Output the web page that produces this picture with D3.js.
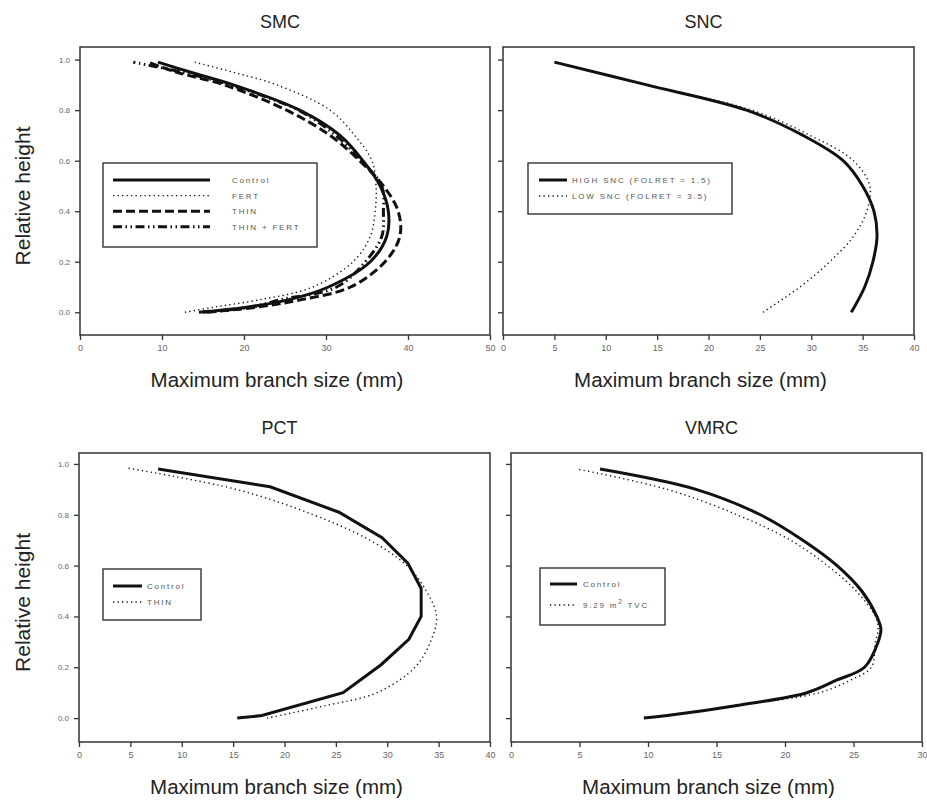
<!DOCTYPE html>
<html><head><meta charset="utf-8">
<script src="https://cdn.jsdelivr.net/npm/d3@7"></script>
<style>
body{margin:0;background:#fff;}
svg{display:block;font-family:"Liberation Sans",Arial,sans-serif;}
</style></head><body>
<svg id="chart" width="927" height="807"></svg>
<script>
'use strict';
// ---- data (relative height vs maximum branch size, mm) ----
const SMC_H      = [0, 0.02, 0.05, 0.1, 0.2, 0.3, 0.4, 0.5, 0.6, 0.7, 0.8, 0.9, 0.95, 0.99];
const SMC_CTRL   = [14.5, 20.3, 25.5, 30.3, 35.4, 37.4, 37.6, 36.6, 34.5, 31.7, 26.8, 18.7, 13.5, 9.5];
const SMC_FERT   = [12.8, 16.3, 22.0, 28.4, 33.3, 35.4, 36.0, 36.1, 35.6, 33.5, 30.5, 24.0, 18.7, 14.0];
const SMC_THIN   = [15.5, 21.5, 27.0, 33.0, 37.2, 39.0, 38.8, 37.0, 34.1, 30.5, 25.2, 17.6, 11.8, 8.3];
const SMC_TF     = [15.0, 20.8, 24.5, 31.3, 34.8, 36.8, 37.0, 36.8, 34.3, 31.2, 26.6, 18.3, 12.5, 6.5];

const SNC_H      = [0, 0.1, 0.2, 0.3, 0.4, 0.5, 0.6, 0.7, 0.8, 0.9, 0.99];
const SNC_HIGH   = [33.9, 35.2, 36.0, 36.4, 36.1, 35.0, 33.1, 29.2, 23.7, 14.0, 5.0];
const SNC_LOW    = [25.3, 28.9, 31.8, 34.1, 35.4, 35.7, 34.1, 29.9, 24.2, 14.0, 5.0];

const PCT_CTRL_H = [0, 0.01, 0.1, 0.21, 0.31, 0.4, 0.51, 0.61, 0.71, 0.81, 0.91, 0.98];
const PCT_CTRL   = [15.4, 17.8, 25.7, 29.4, 32.1, 33.3, 33.3, 32.0, 29.5, 25.3, 18.6, 7.7];
const PCT_THIN_H = [0, 0.05, 0.1, 0.2, 0.3, 0.4, 0.5, 0.6, 0.7, 0.8, 0.9, 0.985];
const PCT_THIN   = [18.3, 24.1, 29.0, 32.7, 34.2, 34.8, 33.8, 31.9, 28.3, 22.8, 15.3, 4.5];

const VMRC_H     = [0, 0.01, 0.05, 0.1, 0.15, 0.2, 0.3, 0.35, 0.4, 0.5, 0.6, 0.7, 0.8, 0.9, 0.98];
const VMRC_CTRL  = [9.7, 11.4, 16.5, 21.6, 23.8, 25.8, 26.8, 27.0, 26.7, 25.6, 23.8, 21.3, 18.2, 13.5, 6.5];
const VMRC_TVC   = [9.7, 11.4, 16.5, 22.5, 24.8, 26.3, 26.6, 26.8, 26.6, 25.2, 23.1, 20.4, 16.5, 11.4, 4.8];

const Y_TICKS = [0, 0.2, 0.4, 0.6, 0.8, 1.0];
const X_TICKS_50 = [0, 10, 20, 30, 40, 50];
const X_TICKS_40 = [0, 5, 10, 15, 20, 25, 30, 35, 40];
const X_TICKS_30 = [0, 5, 10, 15, 20, 25, 30];

// ---- styles ----
const STYLE = {
  solid:   {w: 3,   dash: null},
  dot:     {w: 1.4, dash: '1.3,3.2'},
  dash:    {w: 3,   dash: '9,4'},
  dashdot: {w: 3,   dash: '9,3.5,1.5,3.5,1.5,3.5'}
};
const zip = (h, v) => h.map((d, i) => [v[i], d]);

const panels = [
  {title: 'SMC', left: 80, right: 490, top: 47, bottom: 335, xDomain: [0, 50], yDomain: [-0.09, 1.05],
   xTicks: X_TICKS_50, yLabels: true, curve: d3.curveCatmullRom,
   series: [
     {name: 'Control', style: 'solid', pts: zip(SMC_H, SMC_CTRL)},
     {name: 'FERT', style: 'dot', pts: zip(SMC_H, SMC_FERT)},
     {name: 'THIN', style: 'dash', pts: zip(SMC_H, SMC_THIN)},
     {name: 'THIN + FERT', style: 'dashdot', pts: zip(SMC_H, SMC_TF)}
   ],
   legend: {x: 103, y: 163, w: 214, h: 84, lineX: 113, lineLen: 97, textX: 232, rowY: 180, rowStep: 15.6}},
  {title: 'SNC', left: 503, right: 914, top: 47, bottom: 335, xDomain: [0, 40], yDomain: [-0.09, 1.05],
   xTicks: X_TICKS_40, yLabels: false, curve: d3.curveCatmullRom,
   series: [
     {name: 'HIGH SNC (FOLRET = 1.5)', style: 'solid', pts: zip(SNC_H, SNC_HIGH)},
     {name: 'LOW SNC (FOLRET = 3.5)', style: 'dot', pts: zip(SNC_H, SNC_LOW)}
   ],
   legend: {x: 528, y: 163, w: 204, h: 51, lineX: 539, lineLen: 28, textX: 572, rowY: 180, rowStep: 16}},
  {title: 'PCT', left: 79, right: 490, top: 453, bottom: 742, xDomain: [0, 40], yDomain: [-0.094, 1.043],
   xTicks: X_TICKS_40, yLabels: true, curve: d3.curveLinear,
   series: [
     {name: 'Control', style: 'solid', pts: zip(PCT_CTRL_H, PCT_CTRL)},
     {name: 'THIN', style: 'dot', pts: zip(PCT_THIN_H, PCT_THIN), curve: d3.curveCatmullRom}
   ],
   legend: {x: 103, y: 569, w: 98, h: 51, lineX: 113, lineLen: 29, textX: 147, rowY: 586, rowStep: 16}},
  {title: 'VMRC', left: 511, right: 922, top: 453, bottom: 742, xDomain: [0, 30], yDomain: [-0.094, 1.043],
   xTicks: X_TICKS_30, yLabels: false, curve: d3.curveCatmullRom,
   series: [
     {name: 'Control', style: 'solid', pts: zip(VMRC_H, VMRC_CTRL)},
     {name: '9.29 m2 TVC', style: 'dot', pts: zip(VMRC_H, VMRC_TVC), sup: true}
   ],
   legend: {x: 540, y: 568, w: 125, h: 57, lineX: 550, lineLen: 27, textX: 583, rowY: 584, rowStep: 21}}
];

const svg = d3.select('#chart');

function drawPanel(p) {
  const g = svg.append('g');
  const x = d3.scaleLinear().domain(p.xDomain).range([p.left, p.right]);
  const y = d3.scaleLinear().domain(p.yDomain).range([p.bottom, p.top]);

  const xa = g.append('g').attr('transform', `translate(0,${p.bottom})`)
    .call(d3.axisBottom(x).tickValues(p.xTicks).tickSize(5).tickSizeOuter(0).tickPadding(5));
  const ya = g.append('g').attr('transform', `translate(${p.left},0)`)
    .call(d3.axisLeft(y).tickValues(Y_TICKS).tickSize(5).tickSizeOuter(0).tickPadding(5)
      .tickFormat(p.yLabels ? d3.format('.1f') : ''));
  [xa, ya].forEach(a => {
    a.select('.domain').remove();
    a.selectAll('line').attr('stroke', '#333').attr('stroke-width', 1.3);
    a.selectAll('text').attr('fill', '#666').attr('font-size', 9)
      .attr('font-family', '"Liberation Sans",Arial,sans-serif');
  });
  ya.selectAll('text').attr('font-size', 8);

  g.append('rect').attr('x', p.left).attr('y', p.top)
    .attr('width', p.right - p.left).attr('height', p.bottom - p.top)
    .attr('fill', 'none').attr('stroke', '#333').attr('stroke-width', 1.5);

  // curves, dotted first so solid lies on top
  const order = p.series.slice().reverse();
  order.forEach(s => {
    const st = STYLE[s.style];
    const line = d3.line().x(d => x(d[0])).y(d => y(d[1])).curve(s.curve || p.curve);
    g.append('path').attr('d', line(s.pts))
      .attr('fill', 'none').attr('stroke', '#111')
      .attr('stroke-width', st.w).attr('stroke-dasharray', st.dash);
  });

  // legend
  const L = p.legend;
  g.append('rect').attr('x', L.x).attr('y', L.y).attr('width', L.w).attr('height', L.h)
    .attr('fill', '#fff').attr('stroke', '#333').attr('stroke-width', 1.4);
  p.series.forEach((s, i) => {
    const st = STYLE[s.style];
    const yy = L.rowY + i * L.rowStep;
    g.append('line').attr('x1', L.lineX).attr('x2', L.lineX + L.lineLen)
      .attr('y1', yy).attr('y2', yy).attr('stroke', '#111')
      .attr('stroke-width', st.w).attr('stroke-dasharray', st.dash);
    const t = g.append('text').attr('x', L.textX).attr('y', yy + 3)
      .attr('font-size', 8).attr('letter-spacing', 1.8).attr('fill', '#555');
    if (s.sup) {
      t.append('tspan').text('9.29  m');
      t.append('tspan').attr('dy', -4).attr('font-size', 6.5).text('2');
      t.append('tspan').attr('dy', 4).text(' TVC');
    } else {
      t.text(s.name);
    }
  });

  const cx = (p.left + p.right) / 2;
  g.append('text').attr('x', cx - 5).attr('y', p.top - 19).attr('text-anchor', 'middle')
    .attr('font-size', 18).attr('fill', '#222').text(p.title);
  g.append('text').attr('x', cx - 8).attr('y', p.bottom + 52).attr('text-anchor', 'middle')
    .attr('font-size', 20.5).attr('fill', '#222').text('Maximum branch size (mm)');
  if (p.yLabels) {
    const cy = (p.top + p.bottom) / 2;
    g.append('text').attr('transform', `translate(30,${cy + 5}) rotate(-90)`)
      .attr('text-anchor', 'middle').attr('font-size', 21).attr('fill', '#222')
      .text('Relative height');
  }
}

panels.forEach(drawPanel);
</script></body></html>
